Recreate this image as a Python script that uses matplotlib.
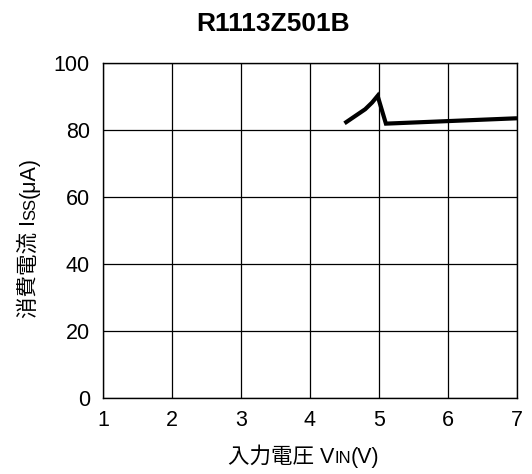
import matplotlib
matplotlib.use("Agg")
import matplotlib.pyplot as plt

plt.rcParams['font.family'] = ['Liberation Sans', 'Noto Sans CJK JP', 'DejaVu Sans']

title = "R1113Z501B"
vin = [4.5, 4.8, 4.9, 4.98, 5.1, 7.0]
iss = [82.0, 86.2, 88.2, 90.2, 81.9, 83.5]
xticks = [1, 2, 3, 4, 5, 6, 7]
yticks = [0, 20, 40, 60, 80, 100]
xlabel_parts = [("入力電圧 V", 15.5), ("IN", 12), ("(V)", 15.5)]
ylabel_parts = [("消費電流 I", 15.5), ("SS", 12), ("(μA)", 15.5)]

W, H = 532, 474
fig = plt.figure(figsize=(W/100, H/100), dpi=100)
ax = fig.add_axes([103/W, 1-398/H, (517-103)/W, (398-63)/H])
ax.plot(vin, iss, color='black', linewidth=3.0, solid_capstyle='butt',
        solid_joinstyle='miter', clip_on=False, zorder=3)
ax.set_xlim(1, 7)
ax.set_ylim(0, 100)
ax.set_xticks(xticks)
ax.set_yticks(yticks)
ax.grid(True, color='black', linewidth=0.9)
for s in ax.spines.values():
    s.set_linewidth(1.0)
ax.tick_params(length=0, labelsize=15.5)
ax.tick_params(axis='x', pad=9)
ax.tick_params(axis='y', pad=9.5)

fig.text(273/W, 1-31/H, title, fontsize=19, fontweight='bold', ha='center', va='baseline')

fig.canvas.draw()
renderer = fig.canvas.get_renderer()

# x label: pieces along the baseline
x0, y0 = 228, H - 463
for txt, fs in xlabel_parts:
    t = fig.text(x0/W, y0/H, txt, fontsize=fs, ha='left', va='baseline')
    bb = t.get_window_extent(renderer)
    x0 += bb.width

# y label: rotated pieces going upward
x0, y0 = 35, H - 318
for txt, fs in ylabel_parts:
    t = fig.text(x0/W, y0/H, txt, fontsize=fs, ha='left', va='baseline',
                 rotation=90, rotation_mode='anchor')
    bb = t.get_window_extent(renderer)
    y0 += bb.height

fig.savefig("out.png", dpi=100)
